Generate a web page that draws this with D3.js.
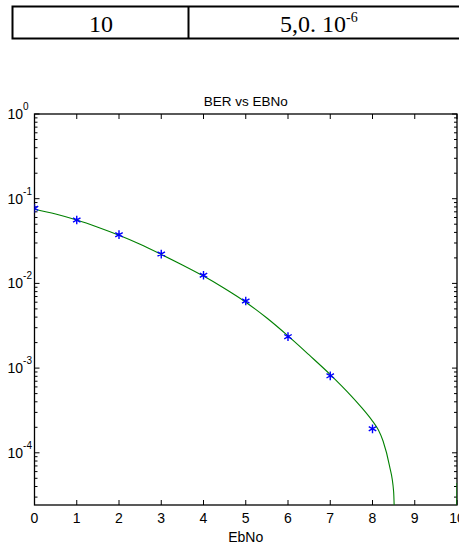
<!DOCTYPE html>
<html>
<head>
<meta charset="utf-8">
<script src="https://cdn.jsdelivr.net/npm/d3@7"></script>
<style>
  body { margin: 0; background: #fff; }
  svg { display: block; }
</style>
</head>
<body>
<div class="chart"></div>
<script>
// data
const tableCells = ['10', '5,0. 10'];
const tableExp = '-6';

const ebno = [0, 1, 2, 3, 4, 5, 6, 7, 8];
const ber = [0.077, 0.0561, 0.0376, 0.0222, 0.0125, 0.0062, 0.00235, 0.00081, 0.000192];

// fitted curve (green)
const fitX = [0, 0.5, 1, 1.5, 2, 2.5, 3, 3.5, 4, 4.5, 5, 5.5, 6, 6.5, 7, 7.5, 7.75, 8, 8.14, 8.25, 8.4, 8.5, 8.56];
const fitY = [0.075, 0.066, 0.056, 0.046, 0.037, 0.029, 0.022, 0.0165, 0.0122, 0.0087, 0.006, 0.0039, 0.0024,
              0.00143, 0.00084, 0.000468, 0.000339, 0.000237, 0.000186, 0.000138, 0.000071, 0.000035, 0.000001];
const tailX = [9.985, 10];
const tailY = [0.000001, 0.000044];

const xTicks = [0, 1, 2, 3, 4, 5, 6, 7, 8, 9, 10];
const title = 'BER vs EBNo';
const xTitle = 'EbNo';

const W = 459, H = 546;
const plot = {left: 34.5, right: 457, top: 114, bottom: 505};

const svg = d3.select('.chart')
              .append('svg')
              .attr('width', W)
              .attr('height', H);

// ---- table strip at the top
const tbl = svg.append('g').attr('class', 'table');
tbl.append('rect')
   .attr('x', 12.5).attr('y', 6.5)
   .attr('width', 470).attr('height', 32)
   .attr('fill', 'none').attr('stroke', '#000').attr('stroke-width', 2);
tbl.append('line')
   .attr('x1', 188.5).attr('x2', 188.5).attr('y1', 6.5).attr('y2', 38.5)
   .attr('stroke', '#000').attr('stroke-width', 2);
tbl.append('text')
   .attr('x', 101).attr('y', 31.5)
   .attr('text-anchor', 'middle')
   .style('font-family', '"Liberation Serif", "Times New Roman", serif')
   .style('font-size', '24px')
   .text(tableCells[0]);
const t2 = tbl.append('text')
   .attr('x', 280).attr('y', 31.5)
   .style('font-family', '"Liberation Serif", "Times New Roman", serif')
   .style('font-size', '24px');
t2.append('tspan').text(tableCells[1]);
t2.append('tspan').attr('dy', -10).style('font-size', '14px').text(tableExp);

// ---- scales
const x = d3.scaleLinear().domain([0, 10]).range([plot.left, plot.right]);
const y = d3.scaleLog().domain([2.42e-5, 1]).range([plot.bottom, plot.top]);

const font = '"Liberation Sans", Arial, sans-serif';

svg.append('defs').append('clipPath').attr('id', 'clip')
   .append('rect')
   .attr('x', plot.left).attr('y', plot.top)
   .attr('width', plot.right - plot.left).attr('height', plot.bottom - plot.top);

// axes box
svg.append('rect')
   .attr('x', plot.left).attr('y', plot.top)
   .attr('width', plot.right - plot.left).attr('height', plot.bottom - plot.top)
   .attr('fill', '#fff').attr('stroke', '#000').attr('stroke-width', 1.3);

// x ticks (bottom and top, pointing inward)
const xt = svg.append('g').attr('class', 'xticks');
xt.selectAll('.tb').data(xTicks).enter().append('line')
  .attr('x1', d => x(d)).attr('x2', d => x(d))
  .attr('y1', plot.bottom).attr('y2', plot.bottom - 5)
  .attr('stroke', '#000');
xt.selectAll('.tt').data(xTicks).enter().append('line')
  .attr('x1', d => x(d)).attr('x2', d => x(d))
  .attr('y1', plot.top).attr('y2', plot.top + 5)
  .attr('stroke', '#000');
xt.selectAll('text').data(xTicks).enter().append('text')
  .attr('x', d => x(d)).attr('y', 523)
  .attr('text-anchor', 'middle')
  .style('font-family', font).style('font-size', '14px')
  .text(d => d);

// y ticks (log, left and right)
const yTicks = y.ticks();
const isMajor = d => Math.abs(Math.log10(d) - Math.round(Math.log10(d))) < 1e-9;
const yt = svg.append('g').attr('class', 'yticks');
yt.selectAll('.tl').data(yTicks).enter().append('line')
  .attr('x1', plot.left).attr('x2', d => plot.left + (isMajor(d) ? 5 : 3))
  .attr('y1', d => y(d)).attr('y2', d => y(d))
  .attr('stroke', '#000');
yt.selectAll('.tr').data(yTicks).enter().append('line')
  .attr('x1', plot.right).attr('x2', d => plot.right - (isMajor(d) ? 5 : 3))
  .attr('y1', d => y(d)).attr('y2', d => y(d))
  .attr('stroke', '#000');
const ylab = yt.selectAll('text').data(yTicks.filter(isMajor)).enter().append('text')
  .attr('x', 7.5).attr('y', d => y(d) + 5)
  .style('font-family', font).style('font-size', '14px');
ylab.append('tspan').text('10');
ylab.append('tspan').attr('dy', -9).style('font-size', '10px')
  .text(d => String(Math.round(Math.log10(d))));

// fitted line
const line = d3.line().x(d => x(d[0])).y(d => y(d[1])).curve(d3.curveMonotoneX);
const fg = svg.append('g').attr('clip-path', 'url(#clip)');
fg.append('path')
  .datum(fitX.map((v, i) => [v, fitY[i]]))
  .attr('d', line)
  .attr('fill', 'none').attr('stroke', '#008000').attr('stroke-width', 1.1);
fg.append('path')
  .datum(tailX.map((v, i) => [v, tailY[i]]))
  .attr('d', d3.line().x(d => x(d[0])).y(d => y(d[1])))
  .attr('fill', 'none').attr('stroke', '#008000').attr('stroke-width', 1.1);

// simulated points
fg.selectAll('.pt').data(ebno).enter().append('path')
  .attr('class', 'pt')
  .attr('transform', (d, i) => `translate(${x(d)},${y(ber[i])})`)
  .attr('d', d3.symbol(d3.symbolAsterisk, 52))
  .attr('fill', 'none').attr('stroke', '#0000ff').attr('stroke-width', 1.4);

// titles
svg.append('text')
   .attr('x', (plot.left + plot.right) / 2).attr('y', 106)
   .attr('text-anchor', 'middle')
   .style('font-family', font).style('font-size', '13.5px')
   .text(title);
svg.append('text')
   .attr('x', (plot.left + plot.right) / 2).attr('y', 542)
   .attr('text-anchor', 'middle')
   .style('font-family', font).style('font-size', '14px')
   .text(xTitle);
</script>
</body>
</html>
